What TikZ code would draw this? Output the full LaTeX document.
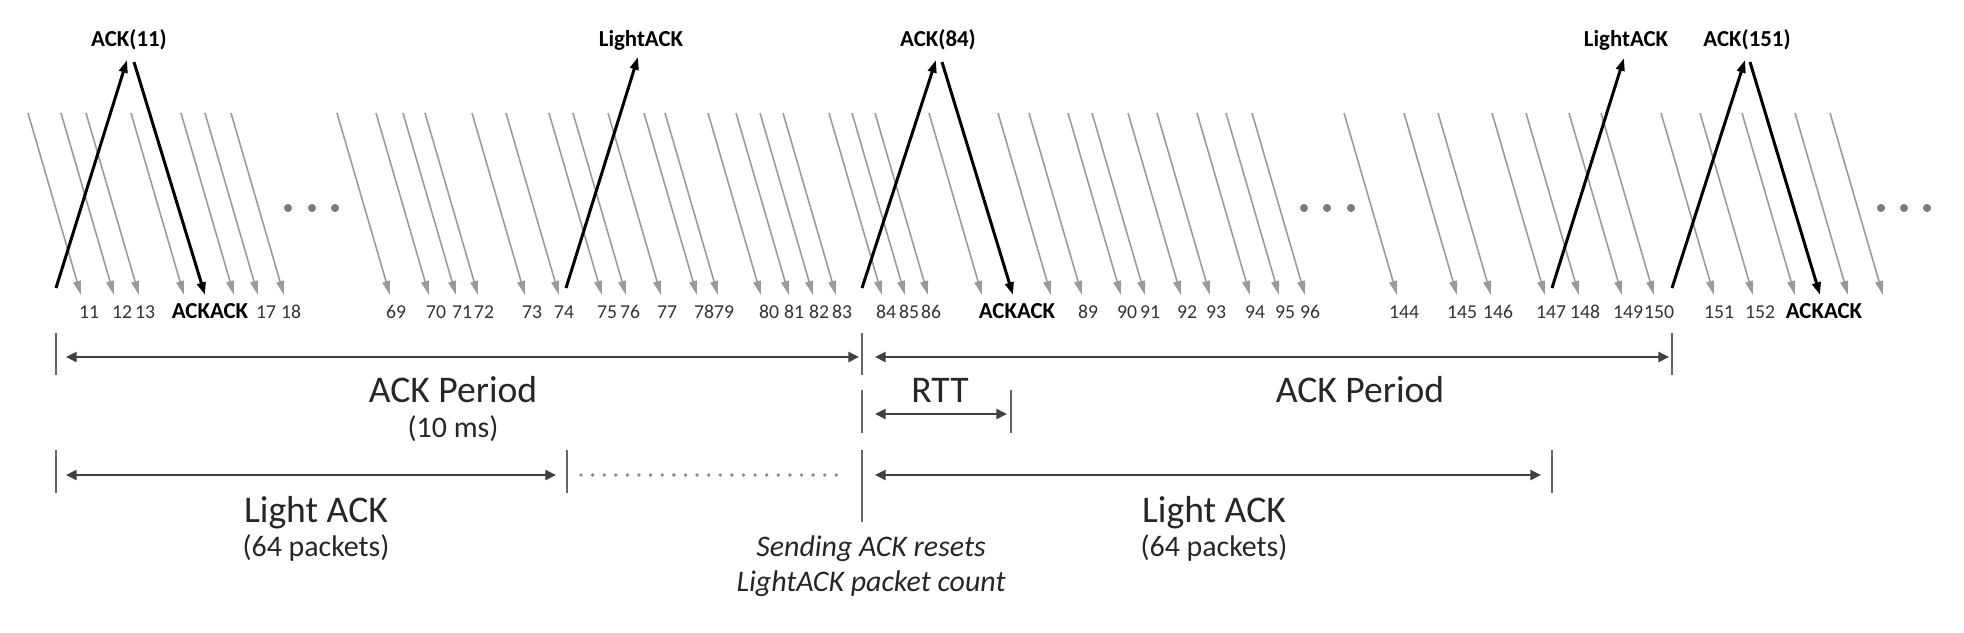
\documentclass[tikz,border=0pt]{standalone}
\usepackage{fontspec}
\setmainfont{Carlito}
\usetikzlibrary{arrows.meta}
\definecolor{pktgray}{HTML}{9A9A9A}
\definecolor{dotgray}{HTML}{7A7A7A}
\begin{document}
\begin{tikzpicture}[x=0.01cm,y=-0.01cm,
  pkt/.style={draw=pktgray,line width=0.45pt,-{Triangle[length=4pt,width=2.2pt]}},
  ctl/.style={draw=black,line width=0.85pt,-{Triangle[length=3.6pt,width=2.4pt]}},
  period/.style={draw=black!75,line width=0.7pt,{Triangle[length=3pt,width=2.8pt]}-{Triangle[length=3pt,width=2.8pt]}},
  tickln/.style={draw=black!60,line width=0.4pt},
  num/.style={inner sep=0,anchor=base,font=\fontsize{5.6}{6.5}\selectfont,text=black!80},
  numb/.style={inner sep=0,anchor=base,font=\fontsize{6.5}{7.5}\selectfont\bfseries,text=black},
  toplab/.style={inner sep=0,anchor=base,font=\fontsize{6.5}{7.5}\selectfont\bfseries,text=black},
  big/.style={inner sep=0,anchor=base,font=\fontsize{10.7}{12}\selectfont,text=black!85},
  mid/.style={inner sep=0,anchor=base,font=\fontsize{8.5}{10}\selectfont,text=black!85},
  note/.style={inner sep=0,anchor=base,font=\fontsize{8.5}{10}\selectfont\itshape,text=black!85},
  elip/.style={fill=dotgray,draw=none}]
\useasboundingbox (0,0) rectangle (1964,632);

% data packets (gray)
\foreach \t [count=\i] in {81,114,139,184,234,258,284,
  390,429,456,478,525,559,602,626,661,697,718,761,789,813,836,
  882,905,928,982,1051,1082,1121,1145,1181,1210,1250,1279,1305,
  1397,1457,1491,1545,1579,1622,1654,1714,1753,1795,1848,1883}{
  \coordinate (ps\i) at (\t-53,113);
  \coordinate (pe\i) at (\t,295);
  \draw[pkt] (ps\i) -- (pe\i);
}

% packet numbers
\foreach \x/\l in {89/11,122/12,145/13,266/17,291/18,
  396/69,436/70,462/71,484/72,532/73,564/74,607/75,630/76,667/77,704/78,724/79,769/80,794/81,819/82,842/83,
  886/84,909/85,931/86,1088/89,1127/90,1150/91,1187/92,1216/93,1255/94,1285/95,1310/96,
  1404/144,1462/145,1498/146,1551/147,1585/148,1628/149,1659/150,1719/151,1760/152}{
  \node[num] (n\l) at (\x,318) {\l};
}
\node[numb] (aa1) at (210,318) {ACKACK};
\node[numb] (aa2) at (1017,318) {ACKACK};
\node[numb] (aa3) at (1824,318) {ACKACK};

% ellipses
\foreach \x in {288,312,335,1304,1327,1351,1881,1904,1927}{
  \fill[elip] (\x,208) circle[radius=1.15pt];
}

% top labels
\node[toplab] (k11) at (129,46) {ACK(11)};
\node[toplab] (l1) at (641,46) {LightACK};
\node[toplab] (k84) at (938,46) {ACK(84)};
\node[toplab] (l2) at (1626,46) {LightACK};
\node[toplab] (k151) at (1747,46) {ACK(151)};

% control packets (black)
\coordinate (a1b) at (56,288);   \coordinate (a1t) at (127,60);
\coordinate (d1t) at (134,62);   \coordinate (d1b) at (205,295);
\coordinate (b1b) at (566,288);  \coordinate (b1t) at (638,57);
\coordinate (a2b) at (862,288);  \coordinate (a2t) at (936,60);
\coordinate (d2t) at (942,62);   \coordinate (d2b) at (1013,295);
\coordinate (b2b) at (1552,288); \coordinate (b2t) at (1624,58);
\coordinate (a3b) at (1672,288); \coordinate (a3t) at (1745,60);
\coordinate (d3t) at (1750,62);  \coordinate (d3b) at (1820,295);
\draw[ctl] (a1b) -- (a1t);
\draw[ctl] (d1t) -- (d1b);
\draw[ctl] (b1b) -- (b1t);
\draw[ctl] (a2b) -- (a2t);
\draw[ctl] (d2t) -- (d2b);
\draw[ctl] (b2b) -- (b2t);
\draw[ctl] (a3b) -- (a3t);
\draw[ctl] (d3t) -- (d3b);

% ticks
\draw[tickln] (56,333) -- (56,375);
\draw[tickln] (862,333) -- (862,375);
\draw[tickln] (1672,333) -- (1672,375);
\draw[tickln] (862,390) -- (862,433);
\draw[tickln] (1011,390) -- (1011,433);
\draw[tickln] (56,450) -- (56,493);
\draw[tickln] (567,450) -- (567,493);
\draw[tickln] (862,450) -- (862,522);
\draw[tickln] (1552,450) -- (1552,493);

% spans
\coordinate (p1l) at (66,357);  \coordinate (p1r) at (859,357);
\coordinate (p2l) at (875,357); \coordinate (p2r) at (1669,357);
\coordinate (rl) at (875,414);  \coordinate (rr) at (1007,414);
\coordinate (q1l) at (66,475);  \coordinate (q1r) at (556,475);
\coordinate (q2l) at (875,475); \coordinate (q2r) at (1541,475);
\coordinate (dl) at (581,475);  \coordinate (dr) at (840,475);
\draw[period] (p1l) -- (p1r);
\draw[period] (p2l) -- (p2r);
\draw[period] (rl) -- (rr);
\draw[period] (q1l) -- (q1r);
\draw[period] (q2l) -- (q2r);
\draw[draw=black!45,line width=1.1pt,line cap=round,dash pattern=on 0pt off 3.3pt] (dl) -- (dr);

% texts
\node[big] (ap1) at (453,402) {ACK Period};
\node[mid] (ms) at (453,437) {(10 ms)};
\node[big] (rtt) at (940,402) {RTT};
\node[big] (ap2) at (1360,402) {ACK Period};
\node[big] (la1) at (316,522) {Light ACK};
\node[mid] (lp1) at (316,556) {(64 packets)};
\node[big] (la2) at (1214,522) {Light ACK};
\node[mid] (lp2) at (1214,556) {(64 packets)};
\node[note] (s1) at (871,556) {Sending ACK resets};
\node[note] (s2) at (871,591) {LightACK packet count};
\end{tikzpicture}
\end{document}
